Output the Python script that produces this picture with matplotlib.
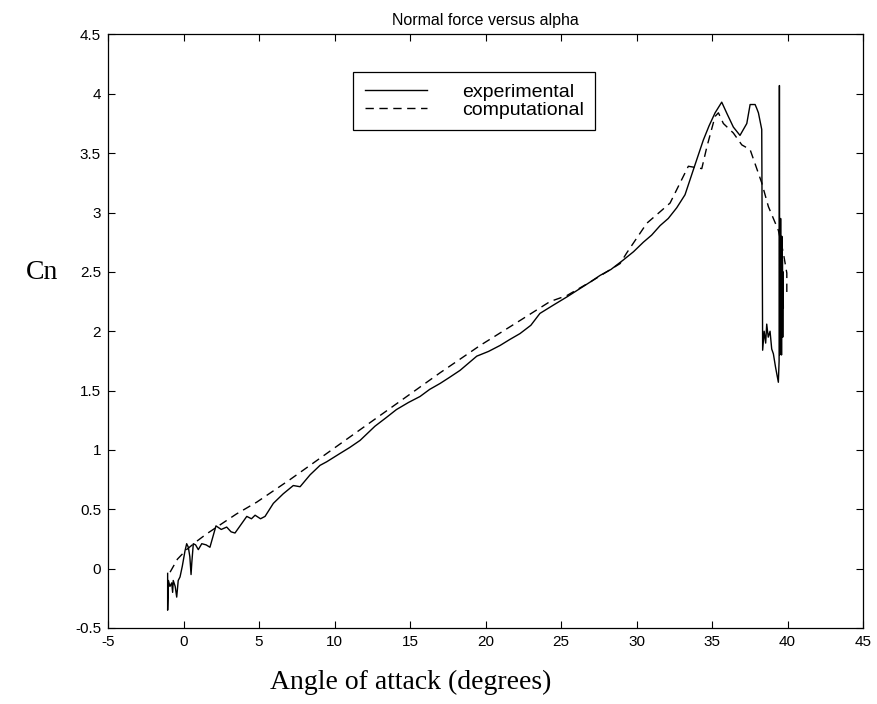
import numpy as np
import matplotlib
matplotlib.use("Agg")
import matplotlib.pyplot as plt

# measured normal force coefficient (wind tunnel run)
exp_alpha = [-1.05, -1.05, -1.0, -0.9, -0.78, -0.72, -0.68, -0.55, -0.45, -0.35,
             -0.23, -0.08, 0.1, 0.21, 0.32, 0.42, 0.5, 0.55, 0.65, 0.8,
             0.98, 1.21, 1.5, 1.75, 2.15, 2.5, 2.86, 3.15, 3.41, 3.8,
             4.19, 4.5, 4.74, 5.1, 5.4, 5.95, 6.6, 7.27, 7.72, 8.38,
             9.04, 9.48, 10.36, 11.0, 11.69, 12.68, 13.4, 14.1, 14.9, 15.66,
             16.3, 16.99, 17.6, 18.31, 19.42, 20.2, 20.96, 21.6, 22.28, 23.0,
             23.6, 24.49, 25.4, 26.26, 27.0, 27.58, 28.3, 29.12, 29.8, 30.45,
             31.0, 31.56, 32.1, 32.66, 33.21, 33.76, 34.42, 34.8, 35.2, 35.64,
             36.0, 36.41, 36.85, 37.3, 37.52, 37.85, 37.95, 38.07, 38.29, 38.35,
             38.45, 38.55, 38.62, 38.72, 38.84, 38.95, 39.06, 39.2, 39.39, 39.44,
             39.46, 39.48, 39.5, 39.52, 39.54, 39.56, 39.58, 39.6, 39.62, 39.64,
             39.66, 39.68, 39.7, 39.72]
exp_cn = [-0.04, -0.35, -0.10, -0.15, -0.12, -0.20, -0.10, -0.15, -0.24, -0.10,
          -0.07, 0.02, 0.15, 0.21, 0.18, 0.10, -0.05, 0.05, 0.21, 0.20,
          0.16, 0.21, 0.20, 0.18, 0.36, 0.33, 0.35, 0.31, 0.30, 0.37,
          0.44, 0.42, 0.45, 0.42, 0.44, 0.55, 0.63, 0.70, 0.69, 0.79,
          0.87, 0.90, 0.97, 1.02, 1.08, 1.20, 1.27, 1.34, 1.40, 1.45,
          1.51, 1.56, 1.61, 1.67, 1.79, 1.83, 1.88, 1.93, 1.98, 2.05,
          2.15, 2.22, 2.29, 2.36, 2.42, 2.47, 2.52, 2.60, 2.67, 2.75,
          2.81, 2.89, 2.95, 3.04, 3.15, 3.36, 3.61, 3.73, 3.84, 3.93,
          3.83, 3.72, 3.65, 3.75, 3.91, 3.91, 3.88, 3.84, 3.70, 1.84,
          2.00, 1.90, 2.06, 1.95, 2.00, 1.85, 1.81, 1.70, 1.57, 1.75,
          4.07, 1.80, 2.90, 1.85, 2.95, 1.90, 2.70, 1.80, 2.80, 2.00,
          2.60, 1.95, 2.50, 2.20]

# CFD prediction
comp_alpha = [-0.89, -0.4, 0.2, 0.87, 1.5, 2.2, 3.5, 4.85, 7.05, 9.04,
              11.69, 14.34, 16.99, 19.64, 22.28, 24.27, 25.38, 27.0, 28.91, 29.35,
              30.68, 31.5, 32.22, 33.43, 34.32, 34.65, 35.2, 35.42, 35.75, 36.41,
              36.97, 37.52, 37.85, 38.29, 38.73, 39.39, 39.72, 39.95, 39.95]
comp_cn = [-0.03, 0.08, 0.16, 0.23, 0.29, 0.35, 0.46, 0.56, 0.75, 0.93,
           1.17, 1.41, 1.65, 1.88, 2.09, 2.25, 2.30, 2.42, 2.57, 2.66,
           2.91, 3.00, 3.08, 3.39, 3.37, 3.55, 3.81, 3.84, 3.75, 3.67,
           3.57, 3.53, 3.41, 3.25, 3.05, 2.85, 2.66, 2.49, 2.32]

xticks = np.arange(-5, 46, 5)
yticks = np.arange(-0.5, 4.51, 0.5)

plt.rcParams['font.family'] = ['Liberation Sans', 'DejaVu Sans']

fig = plt.figure(figsize=(8.78, 7.04), dpi=100)
ax = fig.add_axes([0.123, 0.108, 0.860, 0.843])

ax.plot(exp_alpha, exp_cn, color='black', lw=1.0, ls='-', label='experimental')
ax.plot(comp_alpha, comp_cn, color='black', lw=1.0, ls=(0, (6, 4)), label='computational')

ax.set_xlim(-5, 45)
ax.set_ylim(-0.5, 4.5)
ax.set_xticks(xticks)
ax.set_yticks(yticks)
ax.set_xticklabels(['%g' % t for t in xticks])
ax.set_yticklabels(['%g' % t for t in yticks])
ax.tick_params(direction='in', length=5, width=0.8, labelsize=11,
               top=True, right=True, pad=5)
for s in ax.spines.values():
    s.set_linewidth(0.9)

ax.set_title('Normal force versus alpha', fontsize=11.5, pad=7)

leg = ax.legend(loc='upper left', bbox_to_anchor=(0.3245, 0.937),
                borderaxespad=0, fontsize=14, handlelength=3.2,
                handletextpad=1.8, labelspacing=0.0, borderpad=0.6,
                fancybox=False, framealpha=1, edgecolor='black')
leg.get_frame().set_linewidth(0.9)

fig.text(0.048, 0.613, 'Cn', family='Liberation Serif', fontsize=20,
         ha='center', va='center')
fig.text(0.468, 0.030, 'Angle of attack (degrees)', family='Liberation Serif',
         fontsize=20, ha='center', va='center')

fig.savefig('out.png', dpi=100)
